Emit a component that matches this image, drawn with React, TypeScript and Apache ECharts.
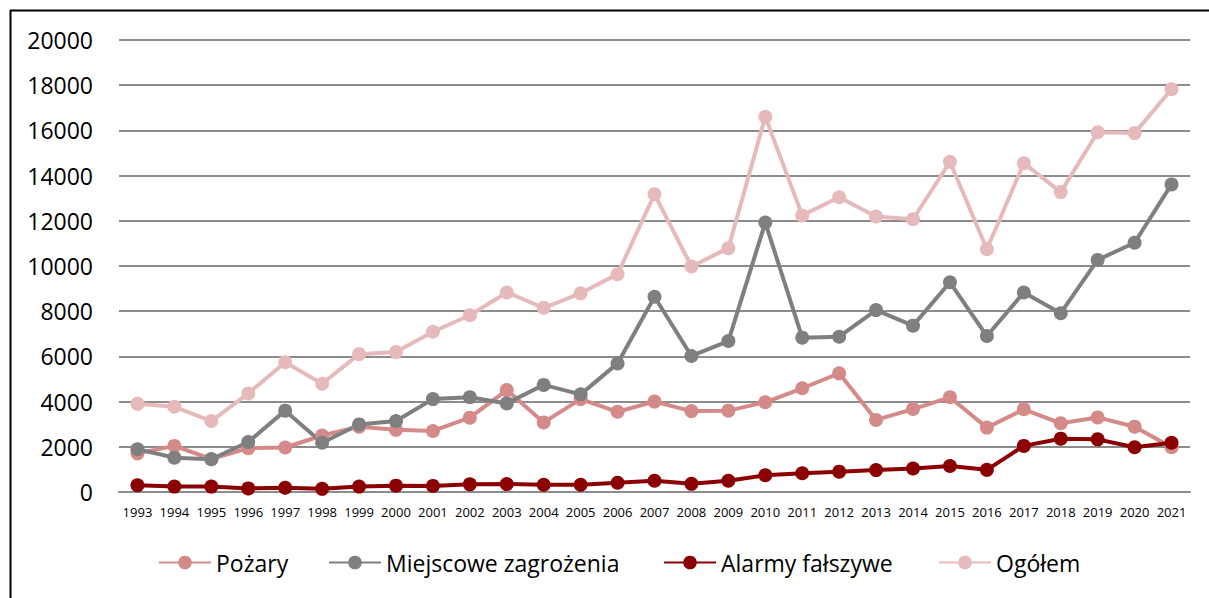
import React, { useEffect, useRef } from "react";
import * as echarts from "echarts";

const years = [
  "1993", "1994", "1995", "1996", "1997", "1998", "1999", "2000", "2001", "2002",
  "2003", "2004", "2005", "2006", "2007", "2008", "2009", "2010", "2011", "2012",
  "2013", "2014", "2015", "2016", "2017", "2018", "2019", "2020", "2021",
];

const pozary = [
  1710, 2040, 1460, 1940, 1970, 2500, 2890, 2750, 2700, 3290,
  4510, 3080, 4110, 3550, 4000, 3580, 3600, 3970, 4590, 5250,
  3190, 3670, 4190, 2850, 3660, 3040, 3300, 2890, 1980,
];

const miejscowe = [
  1890, 1520, 1450, 2210, 3600, 2180, 2990, 3140, 4110, 4190,
  3920, 4740, 4320, 5690, 8640, 6020, 6680, 11920, 6830, 6870,
  8050, 7360, 9280, 6900, 8830, 7910, 10270, 11030, 13610,
];

const alarmy = [
  300, 240, 240, 160, 190, 140, 240, 280, 270, 340,
  350, 320, 320, 410, 500, 360, 500, 740, 830, 900,
  970, 1040, 1150, 980, 2040, 2360, 2330, 1980, 2180,
];

const ogolem = [
  3900, 3770, 3140, 4360, 5740, 4790, 6100, 6190, 7090, 7820,
  8830, 8150, 8790, 9640, 13180, 9980, 10790, 16600, 12240, 13040,
  12190, 12070, 14610, 10740, 14550, 13270, 15920, 15880, 17820,
];

const seriesNames = ["Pożary", "Miejscowe zagrożenia", "Alarmy fałszywe", "Ogółem"];
const seriesColors = ["#D48A89", "#7F7F7F", "#8B0000", "#E6BABA"];
const seriesData = [pozary, miejscowe, alarmy, ogolem];
const legendLefts = [153, 323, 658, 933];

const FONT = "'Open Sans', sans-serif";

export default function App() {
  const ref = useRef<HTMLDivElement>(null);

  useEffect(() => {
    if (!ref.current) return;
    const chart = echarts.init(ref.current, null, { renderer: "svg" });
    chart.setOption({
      animation: false,
      backgroundColor: "#ffffff",
      grid: { left: 119, right: 19, top: 40, bottom: 106 },
      legend: seriesNames.map((name, i) => ({
        left: legendLefts[i],
        top: 546,
        itemWidth: 52,
        itemHeight: 17,
        textStyle: { fontFamily: FONT, fontSize: 23, color: "#000" },
        data: [name],
      })),
      xAxis: {
        type: "category",
        data: years,
        boundaryGap: true,
        axisLine: { show: true, lineStyle: { color: "#8C8C8C", width: 2 } },
        axisTick: { show: false },
        axisLabel: {
          fontFamily: FONT,
          fontSize: 13,
          color: "#000",
          margin: 13,
          interval: 0,
        },
      },
      yAxis: {
        type: "value",
        min: 0,
        max: 20000,
        interval: 2000,
        axisLine: { show: false },
        axisTick: { show: false },
        axisLabel: {
          fontFamily: FONT,
          fontSize: 23,
          color: "#000",
          margin: 26,
          formatter: (v: number) => String(v),
        },
        splitLine: { lineStyle: { color: "#8C8C8C", width: 2 } },
      },
      graphic: [
        {
          type: "line",
          shape: { x1: 10.5, y1: 10, x2: 10.5, y2: 598 },
          style: { stroke: "#000", lineWidth: 2 },
        },
        {
          type: "line",
          shape: { x1: 10, y1: 10.5, x2: 1209, y2: 10.5 },
          style: { stroke: "#000", lineWidth: 2 },
        },
      ],
      series: seriesNames.map((name, i) => ({
        name,
        type: "line",
        data: seriesData[i],
        symbol: "circle",
        symbolSize: 14,
        showSymbol: true,
        color: seriesColors[i],
        lineStyle: { color: seriesColors[i], width: 4 },
        itemStyle: { color: seriesColors[i] },
        emphasis: { disabled: true },
      })),
    });
    return () => chart.dispose();
  }, []);

  return (
    <div
      ref={ref}
      style={{ position: "fixed", left: 0, top: 0, width: 1209, height: 598 }}
    />
  );
}
